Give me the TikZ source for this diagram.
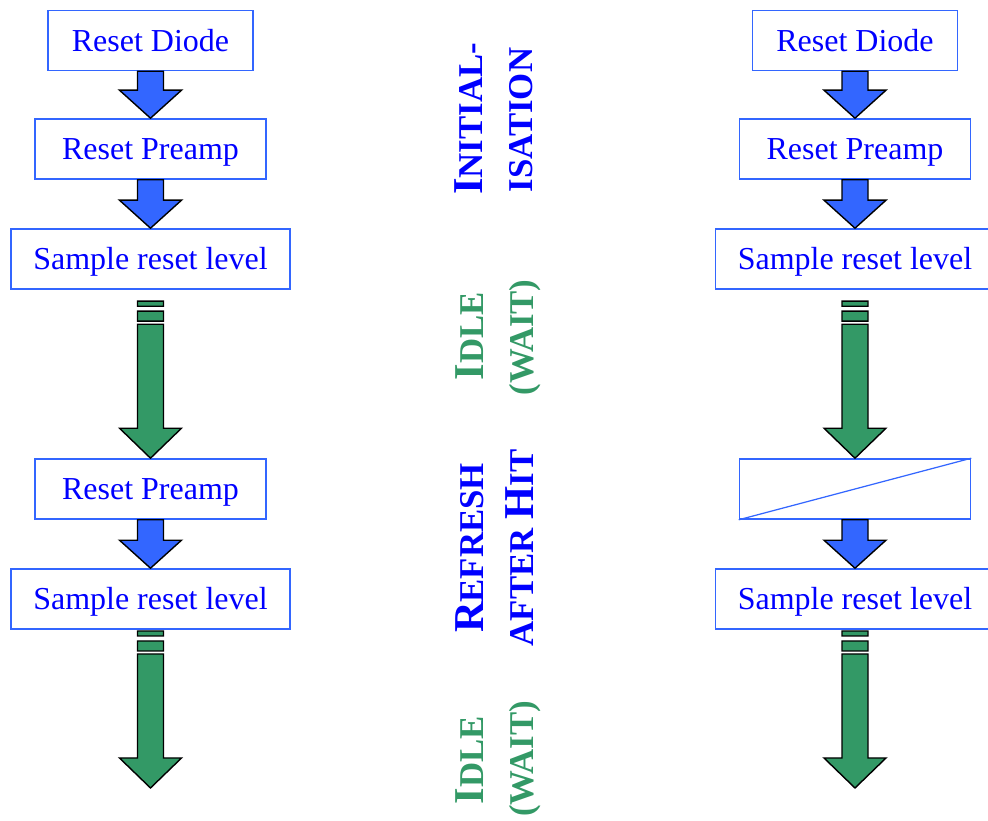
\documentclass[tikz,border=0pt]{standalone}
\usepackage{fontspec}
\setmainfont{Liberation Serif}
\usepackage{tikz}
\usepackage{xcolor}
\usetikzlibrary{calc}

\definecolor{boxblue}{RGB}{51,102,255}
\definecolor{textblue}{RGB}{0,0,255}
\definecolor{arrowblue}{RGB}{51,102,255}
\definecolor{waitgreen}{RGB}{51,153,102}

% fake small caps: big first letter, smaller rest
\newcommand\bigsc[2]{{\fontsize{24.2}{29}\selectfont #1}{\fontsize{19.8}{24}\selectfont #2}}

% short blue block arrow from box to box
\newcommand\blockarrow[2]{%
  \path[draw=black, fill=arrowblue, line width=0.8pt] let \p1=(#1.south), \p2=(#2.north) in
    (\x1-0.26cm,\y1) -- (\x1+0.26cm,\y1) -- (\x1+0.26cm,\y2+0.56cm) -- (\x1+0.62cm,\y2+0.56cm)
    -- (\x1,\y2) -- (\x1-0.62cm,\y2+0.56cm) -- (\x1-0.26cm,\y2+0.56cm) -- cycle;}

% long green (wait) arrow, fixed length, ending at #2
\newcommand\waitarrow[2]{%
  \path[draw=black, fill=waitgreen, line width=0.8pt] let \p1=(#1.south), \p2=(#2) in
    (\x1-0.26cm,\y2+3.14cm) rectangle (\x1+0.26cm,\y2+3.04cm)
    (\x1-0.26cm,\y2+2.94cm) rectangle (\x1+0.26cm,\y2+2.74cm)
    (\x1-0.26cm,\y2+2.68cm) -- (\x1+0.26cm,\y2+2.68cm) -- (\x1+0.26cm,\y2+0.6cm) -- (\x1+0.62cm,\y2+0.6cm)
    -- (\x1,\y2) -- (\x1-0.62cm,\y2+0.6cm) -- (\x1-0.26cm,\y2+0.6cm) -- cycle;}

\begin{document}
\begin{tikzpicture}[
    box/.style={draw=boxblue, line width=0.9pt, fill=white, minimum height=1.2cm, inner sep=0pt,
      text=textblue, font=\fontsize{18.2}{22}\selectfont, text height=12pt, text depth=0pt},
    phase/.style={rotate=90, anchor=base, inner sep=0pt, font=\bfseries}
  ]
    \useasboundingbox (0,0) rectangle (19.76,16.42);

    % Left column: reset sequence, idle, refresh, idle
    \node[box, minimum width=4.1cm] (rdl) at (3.01,15.61) {Reset Diode};
    \node[box, minimum width=4.62cm] (rpl) at (3.01,13.44) {Reset Preamp};
    \node[box, minimum width=5.58cm] (sll) at (3.01,11.24) {Sample reset level};
    \node[box, minimum width=4.62cm] (rpl2) at (3.01,6.64) {Reset Preamp};
    \node[box, minimum width=5.58cm] (sll2) at (3.01,4.44) {Sample reset level};
    \coordinate (endl) at (3.01,0.66);

    \blockarrow{rdl}{rpl}
    \blockarrow{rpl}{sll}
    \waitarrow{sll}{rpl2.north}
    \blockarrow{rpl2}{sll2}
    \waitarrow{sll2}{endl}

    % Right column: same, but no preamp reset after hit
    \node[box, minimum width=4.1cm] (rdr) at (17.1,15.61) {Reset Diode};
    \node[box, minimum width=4.62cm] (rpr) at (17.1,13.44) {Reset Preamp};
    \node[box, minimum width=5.58cm] (slr) at (17.1,11.24) {Sample reset level};
    \node[box, minimum width=4.62cm] (skipr) at (17.1,6.64) {};
    \draw[boxblue, line width=0.7pt] (skipr.south west) -- (skipr.north east);
    \node[box, minimum width=5.58cm] (slr2) at (17.1,4.44) {Sample reset level};
    \coordinate (endr) at (17.1,0.66);

    \blockarrow{rdr}{rpr}
    \blockarrow{rpr}{slr}
    \waitarrow{slr}{skipr.north}
    \blockarrow{skipr}{slr2}
    \waitarrow{slr2}{endr}

    % Phase labels in the middle
    \node[phase, textblue] (init1) at (9.64,14.04) {\bigsc{I}{NITIAL-}};
    \node[phase, textblue] (init2) at (10.64,14.02) {\bigsc{}{ISATION}};
    \node[phase, waitgreen] (idle1) at (9.66,9.70) {\bigsc{I}{DLE}};
    \node[phase, waitgreen] (wait1) at (10.66,9.67) {\bigsc{}{(WAIT)}};
    \node[phase, textblue] (refr1) at (9.66,5.46) {\bigsc{R}{EFRESH}};
    \node[phase, textblue] (refr2) at (10.66,5.46) {\bigsc{}{AFTER }\bigsc{H}{IT}};
    \node[phase, waitgreen] (idle2) at (9.66,1.22) {\bigsc{I}{DLE}};
    \node[phase, waitgreen] (wait2) at (10.66,1.24) {\bigsc{}{(WAIT)}};
\end{tikzpicture}
\end{document}
